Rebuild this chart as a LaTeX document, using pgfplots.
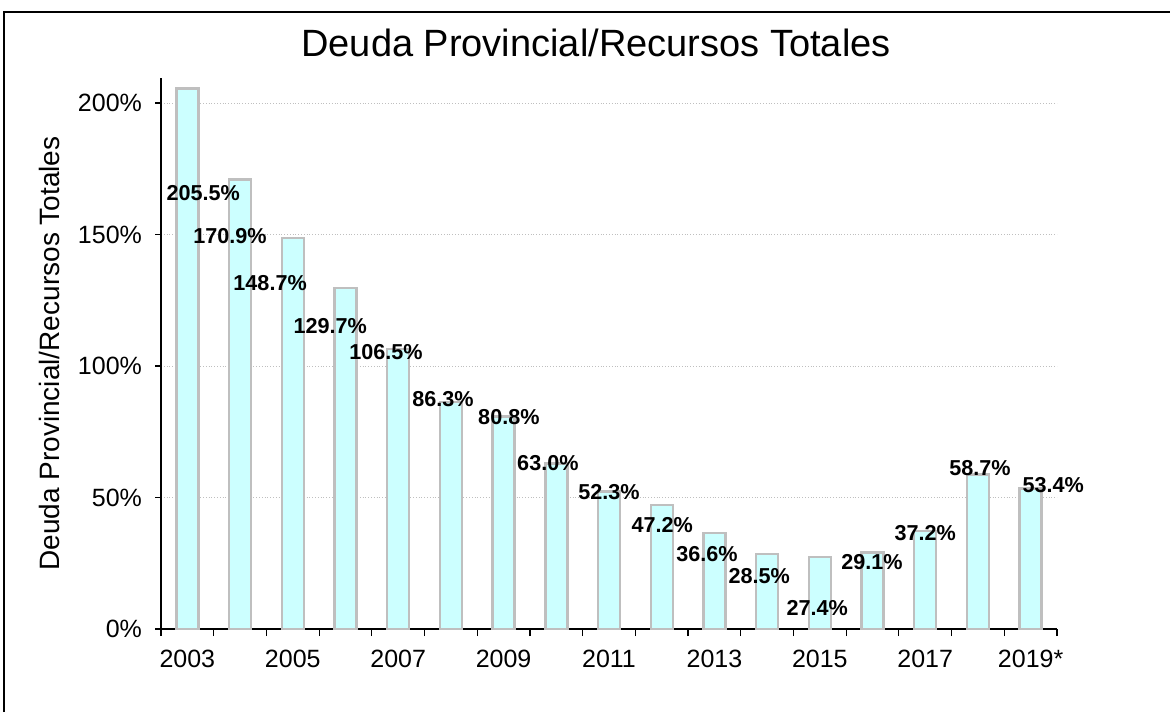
\documentclass[border=0pt]{standalone}
\usepackage{fontspec}
\setmainfont{Liberation Sans}
\usepackage{pgfplots}
\usepackage{pgfplotstable}
\pgfplotsset{compat=1.18}
\definecolor{barfill}{HTML}{CCFFFF}
\definecolor{barline}{HTML}{BFBFBF}
\pgfplotstableread{
x y
0 205.5
1 170.9
2 148.7
3 129.7
4 106.5
5 86.3
6 80.8
7 63.0
8 52.3
9 47.2
10 36.6
11 28.5
12 27.4
13 29.1
14 37.2
15 58.7
16 53.4
}\datatable
\pgfplotstableread{
x y lab
0.30 165.8 205.5\%
0.81 149.4 170.9\%
1.57 131.6 148.7\%
2.71 115.2 129.7\%
3.77 105.3 106.5\%
4.85 87.5 86.3\%
6.10 80.6 80.8\%
6.84 63.1 63.0\%
8.00 52.1 52.3\%
9.01 39.5 47.2\%
9.86 28.5 36.6\%
10.85 20.2 28.5\%
11.95 8.0 27.4\%
12.99 25.5 29.1\%
14.00 36.5 37.2\%
15.04 61.2 58.7\%
16.43 54.8 53.4\%
}\labtable
\begin{document}
\begin{tikzpicture}
\useasboundingbox (0,0) rectangle (585pt,-356pt);
\draw[line width=1pt] (2pt,-356pt) -- (2pt,-6pt) -- (585pt,-6pt);
\begin{axis}[
  at={(80.5pt,-314.5pt)}, anchor=south west,
  scale only axis, width=448pt, height=275.5pt,
  xmin=-0.5, xmax=16.5, ymin=0, ymax=209.5,
  axis x line=bottom, axis y line=left,
  axis line style={-, line width=0.6pt, black},
  tick align=outside,
  xtick={0,2,...,16},
  xticklabels={2003,2005,2007,2009,2011,2013,2015,2017,2019*},
  minor xtick={-0.5,0.5,...,16.5},
  major x tick style={draw=none},
  minor x tick style={line width=0.6pt, black},
  minor tick length=3.5pt,
  major tick length=3pt,
  ytick={0,50,100,150,200},
  yticklabel={\pgfmathprintnumber{\tick}\%},
  y tick style={line width=0.6pt, black},
  ymajorgrids,
  grid style={densely dotted, gray!50, line width=0.4pt},
  /pgf/number format/assume math mode=true,
  ticklabel style={font=\fontsize{12.5}{14}\selectfont},
  xticklabel style={yshift=-4pt},
  yticklabel style={xshift=-3pt},
  ylabel={Deuda Provincial/Recursos Totales},
  ylabel style={at={(axis description cs:-0.125,0.5)}, anchor=center, font=\fontsize{14}{16}\selectfont},
  title={Deuda Provincial/Recursos Totales},
  title style={at={(axis description cs:0.4855,1.0417)}, anchor=center, font=\fontsize{19}{22}\selectfont},
  clip=false,
]
\addplot[ybar, bar width=11pt, fill=barfill, draw=barline, line width=1.2pt] table[x=x,y=y] {\datatable};
\addplot[draw=none, mark=none, nodes near coords, point meta=explicit symbolic,
  nodes near coords style={anchor=center, font=\bfseries\fontsize{10.8}{12}\selectfont, inner sep=0pt}]
  table[x=x, y=y, meta=lab] {\labtable};
\end{axis}
\end{tikzpicture}
\end{document}
